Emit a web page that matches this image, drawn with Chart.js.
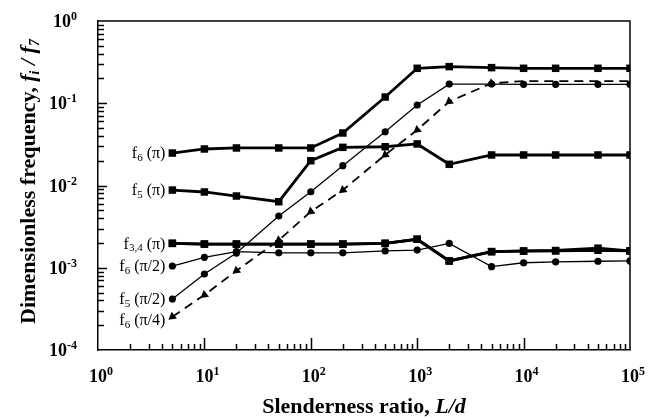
<!DOCTYPE html>
<html>
<head>
<meta charset="utf-8">
<script src="https://cdn.jsdelivr.net/npm/chart.js@4/dist/chart.umd.min.js"></script>
<style>
  html, body { margin: 0; padding: 0; background: #ffffff; }
  #wrap { width: 649px; height: 419px; position: relative; }
</style>
</head>
<body>
<div id="wrap"><canvas id="c" width="649" height="419"></canvas></div>
<script>
// ---- data ----
const slenderness = [5, 10, 20, 50, 100, 200, 500, 1000, 2000, 5000, 10000, 20000, 50000, 100000];
const f6_pi   = [0.0248, 0.0278, 0.0286, 0.0286, 0.0286, 0.0435, 0.119, 0.266, 0.279, 0.271, 0.266, 0.266, 0.266, 0.266];
const f5_pi   = [0.0088, 0.00834, 0.00745, 0.00635, 0.0200, 0.0291, 0.0296, 0.0320, 0.0181, 0.0235, 0.0235, 0.0235, 0.0235, 0.0235];
const f3_pi   = [0.00198, 0.00194, 0.00194, 0.00194, 0.00194, 0.00194, 0.00198, 0.00222, 0.00121, 0.00157, 0.00160, 0.00162, 0.00173, 0.00160];
const f4_pi   = [0.00198, 0.00194, 0.00194, 0.00194, 0.00194, 0.00194, 0.00198, 0.00222, 0.00121, 0.00157, 0.00159, 0.00160, 0.00163, 0.00160];
const f6_pi2  = [0.00105, 0.00134, 0.00157, 0.00152, 0.00152, 0.00152, 0.00160, 0.00164, 0.00198, 0.00103, 0.00115, 0.00118, 0.00120, 0.00121];
const f5_pi2  = [0.000417, 0.00084, 0.00151, 0.00426, 0.0084, 0.0174, 0.045, 0.0952, 0.171, 0.171, 0.170, 0.170, 0.170, 0.170];
const f6_pi4  = [0.000254, 0.000467, 0.00092, 0.00216, 0.00482, 0.0088, 0.0236, 0.0474, 0.105, 0.175, 0.186, 0.186, 0.186, 0.186];

const xTickValues = [1, 10, 100, 1000, 10000, 100000];
const xTickExponents = ['0', '1', '2', '3', '4', '5'];
const yTickValues = [0.0001, 0.001, 0.01, 0.1, 1];
const yTickExponents = ['-4', '-3', '-2', '-1', '0'];

// series labels drawn next to the first point: [main, subscript, tail]
const seriesNames = [
  ['f', '6', ' (π)'],
  ['f', '5', ' (π)'],
  ['f', '3,4', ' (π)'],
  null,
  ['f', '6', ' (π/2)'],
  ['f', '5', ' (π/2)'],
  ['f', '6', ' (π/4)']
];

const pts = arr => arr.map((v, i) => ({ x: slenderness[i], y: v }));

const SERIF = '"Liberation Serif", "Times New Roman", serif';

function drawRuns(ctx, runs, x, y, align) {
  let total = 0;
  runs.forEach(r => { ctx.font = r.font; r.w = ctx.measureText(r.text).width; total += r.w; });
  let cx = align === 'center' ? x - total / 2 : (align === 'right' ? x - total : x);
  runs.forEach(r => {
    ctx.font = r.font;
    ctx.textAlign = 'left';
    ctx.fillText(r.text, cx, y + (r.dy || 0));
    cx += r.w;
  });
}

const decorPlugin = {
  id: 'decor',
  afterDraw(chart) {
    const ctx = chart.ctx;
    const xs = chart.scales.x, ys = chart.scales.y;
    const a = chart.chartArea;
    ctx.save();
    ctx.strokeStyle = '#000';
    ctx.fillStyle = '#000';
    // frame (top & right)
    ctx.lineWidth = 1.5;
    ctx.beginPath();
    ctx.moveTo(a.left, a.top); ctx.lineTo(a.right, a.top); ctx.lineTo(a.right, a.bottom);
    ctx.stroke();
    // inward ticks
    ctx.beginPath();
    for (let d = 0; d < 5; d++) {
      for (let k = 1; k <= 9; k++) {
        if (k === 1 && d === 0) continue;
        const px = Math.round(xs.getPixelForValue(k * Math.pow(10, d))) + 0.5;
        const len = k === 1 ? 12 : 6;
        ctx.moveTo(px, a.bottom); ctx.lineTo(px, a.bottom - len);
      }
    }
    for (let d = -4; d < 0; d++) {
      for (let k = 1; k <= 9; k++) {
        if (k === 1 && d === -4) continue;
        const py = Math.round(ys.getPixelForValue(k * Math.pow(10, d))) + 0.5;
        const len = k === 1 ? 9 : 6;
        ctx.moveTo(a.left, py); ctx.lineTo(a.left + len, py);
      }
    }
    ctx.stroke();

    // tick labels (10 with superscript exponent)
    ctx.textBaseline = 'alphabetic';
    const base = 'bold 18px ' + SERIF, sup = 'bold 12px ' + SERIF;
    xTickValues.forEach((v, i) => {
      const px = xs.getPixelForValue(v);
      ctx.font = base;
      const w10 = ctx.measureText('10').width;
      drawRuns(ctx, [
        { text: '10', font: base },
        { text: xTickExponents[i], font: sup, dy: -7 }
      ], px - w10 / 2, 382, 'left');
    });
    yTickValues.forEach((v, i) => {
      const py = ys.getPixelForValue(v);
      drawRuns(ctx, [
        { text: '10', font: base },
        { text: yTickExponents[i], font: sup, dy: -7 }
      ], 77, py + 6, 'right');
    });

    // series labels
    ctx.textBaseline = 'middle';
    const dys = [1, 1, 1, 0, 1, 1, 4];
    seriesNames.forEach((n, i) => {
      if (!n) return;
      const p = chart.getDatasetMeta(i).data[0];
      drawRuns(ctx, [
        { text: n[0], font: '16px ' + SERIF },
        { text: n[1], font: '11px ' + SERIF, dy: 4 },
        { text: n[2], font: '16px ' + SERIF }
      ], p.x - 7, p.y + dys[i], 'right');
    });

    // x axis title
    ctx.textBaseline = 'alphabetic';
    drawRuns(ctx, [
      { text: 'Slenderness ratio, ', font: 'bold 22px ' + SERIF },
      { text: 'L/d', font: 'italic bold 22px ' + SERIF }
    ], (a.left + a.right) / 2, 413, 'center');

    // y axis title
    ctx.save();
    ctx.translate(35, (a.top + a.bottom) / 2 - 4);
    ctx.rotate(-Math.PI / 2);
    drawRuns(ctx, [
      { text: 'Dimensionless frequency, ', font: 'bold 22px ' + SERIF },
      { text: 'f', font: 'italic bold 22px ' + SERIF },
      { text: 'i', font: 'italic bold 14px ' + SERIF, dy: 4 },
      { text: ' / ', font: 'italic bold 22px ' + SERIF },
      { text: 'f', font: 'italic bold 22px ' + SERIF },
      { text: '7', font: 'italic bold 14px ' + SERIF, dy: 4 }
    ], 0, 0, 'center');
    ctx.restore();
    ctx.restore();
  }
};

const thick = { borderColor: '#000', backgroundColor: '#000', borderWidth: 2.8, pointStyle: 'rect', pointRadius: 5.3, pointHoverRadius: 5.3, pointBorderWidth: 0 };
const thin  = { borderColor: '#000', backgroundColor: '#000', borderWidth: 1.3, pointStyle: 'circle', pointRadius: 3.6, pointHoverRadius: 3.6, pointBorderWidth: 0 };

new Chart(document.getElementById('c'), {
  type: 'line',
  data: {
    datasets: [
      Object.assign({ label: 'f6 (π)', data: pts(f6_pi) }, thick),
      Object.assign({ label: 'f5 (π)', data: pts(f5_pi) }, thick),
      Object.assign({ label: 'f3 (π)', data: pts(f3_pi) }, thick),
      Object.assign({ label: 'f4 (π)', data: pts(f4_pi) }, thick),
      Object.assign({ label: 'f6 (π/2)', data: pts(f6_pi2) }, thin),
      Object.assign({ label: 'f5 (π/2)', data: pts(f5_pi2) }, thin),
      { label: 'f6 (π/4)', data: pts(f6_pi4), borderColor: '#000', backgroundColor: '#000', borderWidth: 1.8, borderDash: [9, 6],
        pointStyle: 'triangle', pointHoverRadius: 5, pointRotation: 232, pointBorderWidth: 0,
        pointRadius: ctx => (ctx.dataIndex >= 10 ? 0 : 5) }
    ]
  },
  options: {
    responsive: false,
    animation: false,
    events: [],
    layout: { padding: { left: 0, top: 21, right: 19, bottom: 0 } },
    plugins: { legend: { display: false }, tooltip: { enabled: false } },
    elements: { line: { tension: 0 } },
    scales: {
      x: {
        type: 'logarithmic', min: 1, max: 100000,
        afterFit(s) { s.height = 69; s.paddingLeft = 0; s.paddingRight = 0; },
        grid: { display: false, drawTicks: false },
        border: { display: true, color: '#000', width: 1.5 },
        ticks: { display: false }
      },
      y: {
        type: 'logarithmic', min: 0.0001, max: 1,
        afterFit(s) { s.width = 98; s.paddingTop = 0; s.paddingBottom = 0; },
        grid: { display: false, drawTicks: false },
        border: { display: true, color: '#000', width: 1.5 },
        ticks: { display: false }
      }
    }
  },
  plugins: [decorPlugin]
});
</script>
</body>
</html>
